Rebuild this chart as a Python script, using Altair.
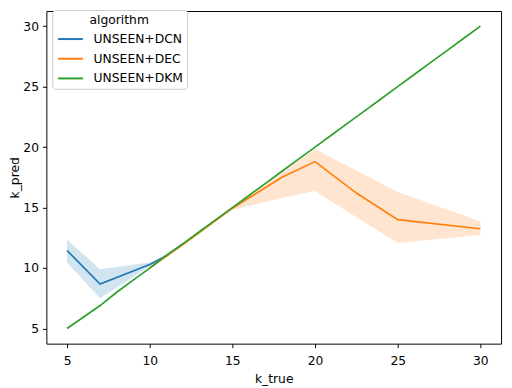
import altair as alt
import pandas as pd

algorithms = ["UNSEEN+DCN", "UNSEEN+DEC", "UNSEEN+DKM"]
colors = ["#1f77b4", "#ff7f0e", "#2ca02c"]

dcn_x = [5, 7, 10, 11, 12]
dcn_y = [11.45, 8.68, 10.3, 11.0, 12.0]
dcn_lo = [10.45, 7.5, 10.15, 10.9, 11.9]
dcn_hi = [12.35, 9.9, 10.45, 11.1, 12.1]

dec_x = [10, 12, 15, 18, 20, 22.5, 25, 30]
dec_y = [10.0, 11.95, 14.95, 17.5, 18.8, 16.2, 14.0, 13.25]
dec_lo = [10.0, 11.8, 14.8, 15.8, 16.37, 14.2, 12.07, 12.73]
dec_hi = [10.0, 12.0, 15.05, 17.95, 19.85, 18.07, 16.29, 13.84]

dkm_x = list(range(5, 31))
dkm_y = [5.0, 5.95, 6.9, 8.0, 9.0, 10.0, 11.05, 12.0, 13.0, 14.0, 15.0,
         16.0, 17.0, 18.0, 19.0, 20.0, 21.0, 22.0, 23.0, 24.0, 25.0,
         26.0, 27.0, 28.0, 29.0, 30.0]

rows = []
for name, xs, ys, los, his in [
    ("UNSEEN+DCN", dcn_x, dcn_y, dcn_lo, dcn_hi),
    ("UNSEEN+DEC", dec_x, dec_y, dec_lo, dec_hi),
    ("UNSEEN+DKM", dkm_x, dkm_y, dkm_y, dkm_y),
]:
    for x, y, lo, hi in zip(xs, ys, los, his):
        rows.append({"algorithm": name, "k_true": x, "k_pred": y, "lo": lo, "hi": hi})
df = pd.DataFrame(rows)

xscale = alt.Scale(domain=[3.75, 31.25], nice=False, zero=False)
yscale = alt.Scale(domain=[3.75, 31.25], nice=False, zero=False)
ticks = [5, 10, 15, 20, 25, 30]
FS = 12.5

x_enc = alt.X("k_true:Q", scale=xscale, title="k_true",
              axis=alt.Axis(values=ticks, format="d"))

legend = alt.Legend(
    title="algorithm", orient="none", legendX=6, legendY=-1,
    symbolType="M-0.9,0L1.9,0", symbolSize=324, symbolStrokeWidth=2,
    symbolOpacity=1, symbolFillColor="transparent",
    strokeColor="#cccccc", fillColor="white", padding=4, cornerRadius=3,
    titleAnchor="middle", titleAlign="center", rowPadding=3,
    labelOffset=18, titleFontSize=FS, labelFontSize=FS,
    titleFontWeight="normal", titlePadding=3,
)
color_enc = alt.Color("algorithm:N", scale=alt.Scale(domain=algorithms, range=colors),
                      legend=legend)

band = alt.Chart(df).mark_area(opacity=0.2).encode(
    x=x_enc,
    y=alt.Y("lo:Q", scale=yscale, title="k_pred", axis=alt.Axis(values=ticks, format="d")),
    y2="hi:Q",
    color=color_enc,
)

line = alt.Chart(df).mark_line(strokeWidth=1.7).encode(
    x=x_enc,
    y=alt.Y("k_pred:Q", scale=yscale, title="k_pred", axis=alt.Axis(values=ticks, format="d")),
    color=color_enc,
)

chart = alt.layer(band, line).properties(
    width=462, height=338,
    autosize=alt.AutoSizeParams(type="none"),
    padding={"left": 39, "top": 0, "right": 3, "bottom": 42},
).configure_view(
    stroke="black", strokeWidth=1
).configure_axis(
    grid=False, domain=False, tickColor="black", tickSize=4,
    labelColor="black", titleColor="black", labelFont="DejaVu Sans",
    titleFont="DejaVu Sans", labelFontSize=FS, titleFontSize=FS,
    titleFontWeight="normal",
).configure_axisY(
    titlePadding=1, labelPadding=4
).configure_axisX(
    titlePadding=6, labelPadding=7
).configure_legend(
    labelFont="DejaVu Sans", titleFont="DejaVu Sans",
    labelColor="black", titleColor="black",
)

chart.save("out.html", embed_options={"renderer": "svg", "actions": False})
